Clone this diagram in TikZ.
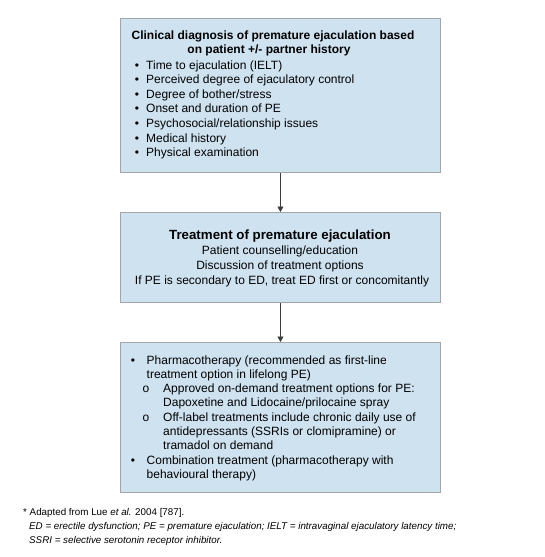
\documentclass[tikz,border=0pt]{standalone}
\usepackage{fontspec}
\setmainfont{Liberation Sans}
\usetikzlibrary{arrows.meta}
\definecolor{boxfill}{RGB}{207,226,240}
\definecolor{boxline}{RGB}{160,166,172}
\definecolor{arrowcol}{RGB}{60,60,60}
\tikzset{
  panel/.style={draw=boxline, fill=boxfill, line width=0.9pt, inner sep=0pt},
  txt/.style={anchor=base west, inner sep=0pt, font=\fontsize{12}{14.6}\selectfont},
  ctxt/.style={anchor=base, inner sep=0pt, font=\fontsize{12}{14.6}\selectfont},
  btitle/.style={anchor=base, inner sep=0pt, font=\fontsize{12}{14}\selectfont\bfseries},
  bigtitle/.style={anchor=base, inner sep=0pt, font=\fontsize{13.3}{15}\selectfont\bfseries},
  bulletmark/.style={anchor=base, inner sep=0pt, font=\fontsize{12}{14.6}\selectfont},
  note/.style={anchor=base west, inner sep=0pt, font=\fontsize{9.8}{11}\selectfont},
  flow/.style={draw=arrowcol, line width=0.8pt, -{Triangle[width=6pt,length=5.5pt]}}
}
\begin{document}
\begin{tikzpicture}[x=1pt,y=-1pt]
\useasboundingbox (0,0) rectangle (544,557);
% boxes
\node[panel, minimum width=320pt, minimum height=154pt, anchor=north west] (box1) at (120,18) {};
\node[panel, minimum width=320pt, minimum height=90pt, anchor=north west] (box2) at (120,212) {};
\node[panel, minimum width=320pt, minimum height=150pt, anchor=north west] (box3) at (120,342) {};
\draw[flow] (box1.south) -- (box2.north);
\draw[flow] (box2.south) -- (box3.north);
% box 1
\node[btitle] (t1a) at (273,39) {Clinical diagnosis of premature ejaculation based};
\node[btitle] (t1b) at (269,53) {on patient +/- partner history};
\foreach \t [count=\i] in {Time to ejaculation (IELT),Perceived degree of ejaculatory control,Degree of bother/stress,Onset and duration of PE,Psychosocial/relationship issues,Medical history,Physical examination}{
  \node[bulletmark] (m1-\i) at (137,{69+14.6*(\i-1)}) {\textbullet};
  \node[txt] (l1-\i) at (146,{69+14.6*(\i-1)}) {\t};
}
% box 2
\node[bigtitle] (t2) at (280,239) {Treatment of premature ejaculation};
\node[ctxt] (l2-1) at (280,254) {Patient counselling/education};
\node[ctxt] (l2-2) at (280,269) {Discussion of treatment options};
\node[ctxt] (l2-3) at (282,284) {If PE is secondary to ED, treat ED first or concomitantly};
% box 3
\node[bulletmark] (m3-1) at (133,364) {\textbullet};
\node[txt] (l3-1) at (146.5,364) {Pharmacotherapy (recommended as first-line};
\node[txt] (l3-2) at (146.5,378.3) {treatment option in lifelong PE)};
\node[bulletmark] (m3-2) at (146,392.6) {o};
\node[txt] (l3-3) at (163,392.6) {Approved on-demand treatment options for PE:};
\node[txt] (l3-4) at (163,406.9) {Dapoxetine and Lidocaine/prilocaine spray};
\node[bulletmark] (m3-3) at (146,421.2) {o};
\node[txt] (l3-5) at (163,421.2) {Off-label treatments include chronic daily use of};
\node[txt] (l3-6) at (163,435.5) {antidepressants (SSRIs or clomipramine) or};
\node[txt] (l3-7) at (163,449.8) {tramadol on demand};
\node[bulletmark] (m3-4) at (133,464.1) {\textbullet};
\node[txt] (l3-8) at (146.5,464.1) {Combination treatment (pharmacotherapy with};
\node[txt] (l3-9) at (146.5,478.4) {behavioural therapy)};
% footnote
\node[note] (n1) at (23,515) {* Adapted from Lue \textit{et al.} 2004 [787].};
\node[note] (n2) at (29,529) {\itshape ED = erectile dysfunction; PE = premature ejaculation; IELT = intravaginal ejaculatory latency time;};
\node[note] (n3) at (29,543) {\itshape SSRI = selective serotonin receptor inhibitor.};
\end{tikzpicture}
\end{document}
